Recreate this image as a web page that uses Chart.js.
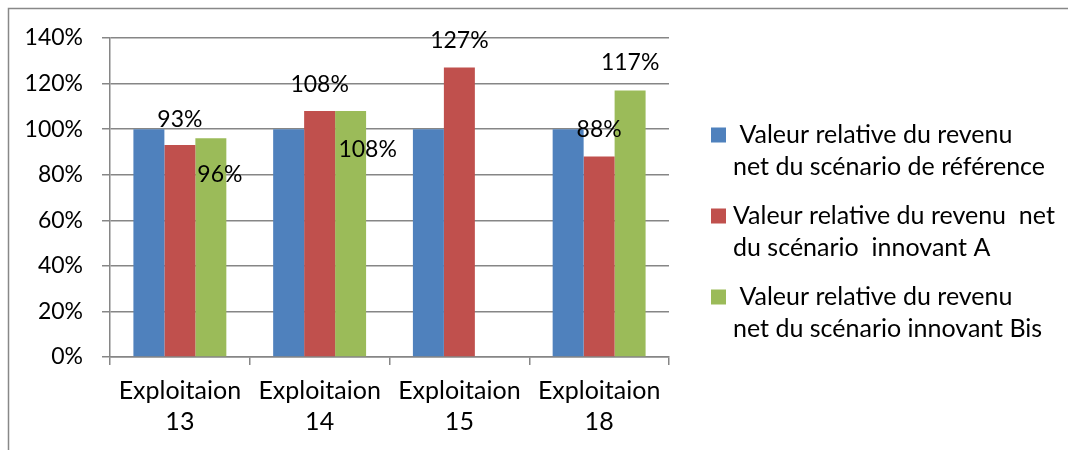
<!DOCTYPE html>
<html>
<head>
<meta charset="utf-8">
<script src="https://cdn.jsdelivr.net/npm/chart.js@4"></script>
<style>
  html, body { margin: 0; padding: 0; background: #fff; }
  #wrap { width: 1068px; height: 450px; position: relative; }
</style>
</head>
<body>
<div id="wrap"><canvas id="revenu-chart" width="1068" height="450"></canvas></div>
<script>
const categories = [['Exploitaion', '13'], ['Exploitaion', '14'], ['Exploitaion', '15'], ['Exploitaion', '18']];
const seriesNames = [
  ' Valeur relative du revenu\nnet du scénario de référence',
  'Valeur relative du revenu  net\ndu scénario  innovant A',
  ' Valeur relative du revenu\nnet du scénario innovant Bis'
];
const refValues = [100, 100, 100, 100];
const innovantA = [93, 108, 127, 88];
const innovantBis = [96, 108, null, 117];
const yTicks = [0, 20, 40, 60, 80, 100, 120, 140];

const colors = ['#4f81bd', '#c0504d', '#9bbb59'];
const FONT = 'Lato, "Open Sans", sans-serif';

// where Excel put the value labels, relative to the top of each bar
const labelOffsets = [
  null,
  [[0, -26], [0, -26], [0, -27], [0, -27]],
  [[9, 36], [17, 39], null, [0, -28]]
];

const framePlugin = {
  id: 'frame',
  beforeDraw(chart) {
    const c = chart.ctx;
    c.save();
    c.strokeStyle = '#888';
    c.lineWidth = 1.5;
    c.beginPath();
    c.moveTo(8.5, 460);
    c.lineTo(8.5, 8.5);
    c.lineTo(1080, 8.5);
    c.stroke();
    c.restore();
  }
};

const valueLabels = {
  id: 'valueLabels',
  afterDatasetsDraw(chart) {
    const c = chart.ctx;
    c.save();
    c.font = '23px ' + FONT;
    c.fillStyle = '#000';
    c.textAlign = 'center';
    c.textBaseline = 'middle';
    chart.data.datasets.forEach((ds, i) => {
      if (!labelOffsets[i]) return;
      chart.getDatasetMeta(i).data.forEach((bar, j) => {
        const off = labelOffsets[i][j];
        if (ds.data[j] == null || !off) return;
        c.fillText(ds.data[j] + '%', bar.x + off[0], bar.y + off[1]);
      });
    });
    c.restore();
  }
};

const sideLegend = {
  id: 'sideLegend',
  afterDraw(chart) {
    const c = chart.ctx;
    c.save();
    c.font = '25px ' + FONT;
    c.textBaseline = 'middle';
    chart.data.datasets.forEach((ds, i) => {
      const y0 = 135 + i * 81;
      c.fillStyle = ds.backgroundColor;
      c.fillRect(711, y0 - 7.5, 15, 15);
      c.fillStyle = '#000';
      ds.label.split('\n').forEach((line, k) => {
        c.fillText(line, 733, y0 + k * 32);
      });
    });
    c.restore();
  }
};

const ctx = document.getElementById('revenu-chart').getContext('2d');

new Chart(ctx, {
  type: 'bar',
  data: {
    labels: categories,
    datasets: [
      { label: seriesNames[0], data: refValues, backgroundColor: colors[0] },
      { label: seriesNames[1], data: innovantA, backgroundColor: colors[1] },
      { label: seriesNames[2], data: innovantBis, backgroundColor: colors[2] }
    ]
  },
  options: {
    responsive: false,
    animation: false,
    categoryPercentage: 0.665,
    barPercentage: 1,
    layout: { padding: { left: 0, top: 38, right: 399, bottom: 0 } },
    scales: {
      x: {
        grid: { drawOnChartArea: false, drawTicks: true, tickLength: 8, color: '#868686', lineWidth: 1.5 },
        border: { color: '#868686', width: 1.5 },
        ticks: { color: '#000', font: { family: FONT, size: 25, lineHeight: 1.22 }, padding: 11, maxRotation: 0 },
        afterFit(s) { s.height = 93; }
      },
      y: {
        min: 0,
        max: 140,
        afterBuildTicks(s) { s.ticks = yTicks.map(v => ({ value: v })); },
        grid: { color: '#868686', lineWidth: 1.5, tickLength: 8 },
        border: { color: '#868686', width: 1.5 },
        ticks: { color: '#000', font: { family: FONT, size: 23 }, padding: 19, callback: v => v + '%' },
        afterFit(s) { s.width = 110; }
      }
    },
    plugins: {
      legend: { display: false },
      tooltip: { enabled: false }
    }
  },
  plugins: [framePlugin, valueLabels, sideLegend]
});
</script>
</body>
</html>
